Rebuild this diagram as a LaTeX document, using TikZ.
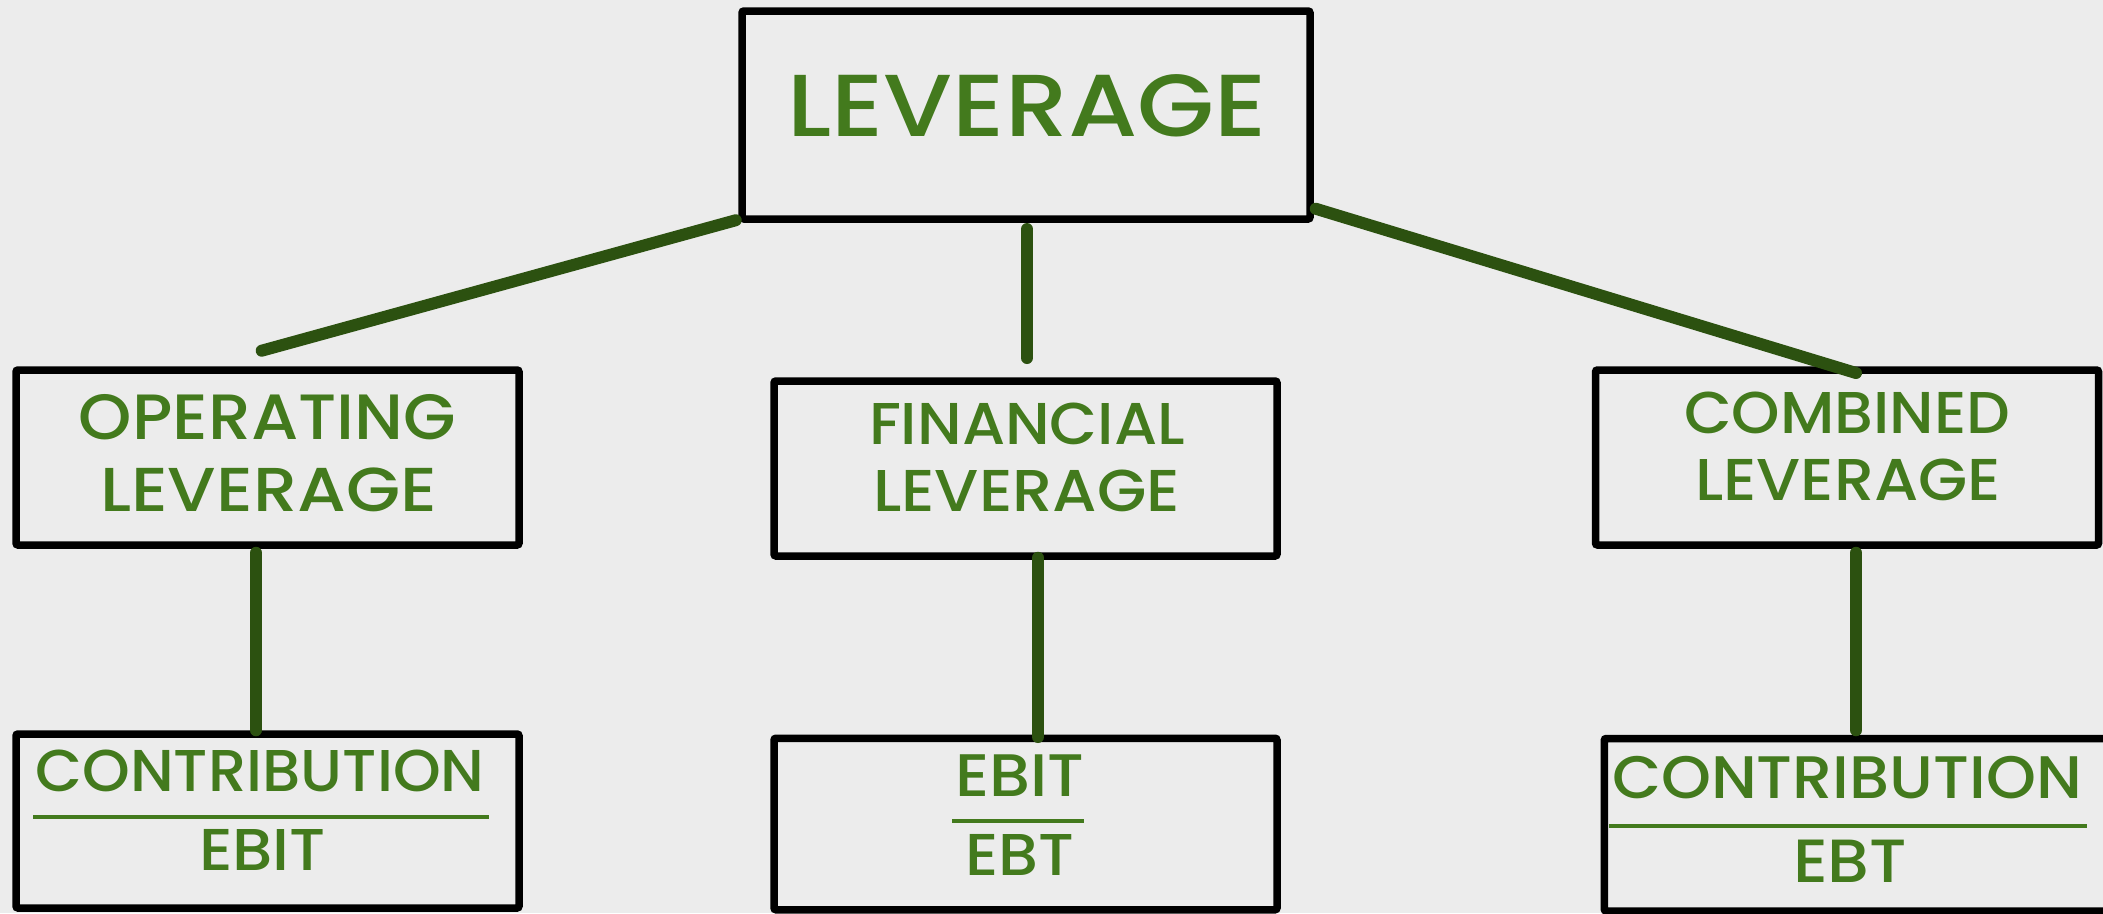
\documentclass[tikz,border=0pt]{standalone}
\usepackage{fontspec}
\setmainfont{Poppins}
\newfontfamily\pop{Poppins Medium}
\definecolor{bgc}{HTML}{ECECEC}
\definecolor{txtg}{HTML}{437A1D}
\definecolor{conng}{HTML}{2C5110}
\newcommand{\fsz}[1]{\fontsize{#1}{#1}\selectfont}
\newcommand{\fitw}[2]{\resizebox{#1pt}{\height}{#2}}
\begin{document}
\begin{tikzpicture}[x=1pt,y=-1pt,
  box/.style={draw=black, line width=7.5pt, rounded corners=2pt, inner sep=0pt},
  txt/.style={text=txtg, inner sep=0pt, anchor=base, font=\pop},
  conn/.style={draw=conng, line width=12pt, line cap=round},
  frac/.style={draw=txtg, line width=3.5pt}]
\fill[bgc] (0,0) rectangle (2103,913);
\useasboundingbox (0,0) rectangle (2103,913);
% boxes
\node[box, minimum width=568pt, minimum height=208pt] (top) at (1026,115) {};
\node[box, minimum width=503pt, minimum height=175pt] (op) at (267.5,457.5) {};
\node[box, minimum width=503pt, minimum height=175pt] (fin) at (1025.5,468.5) {};
\node[box, minimum width=503pt, minimum height=175pt] (com) at (1847,457.5) {};
\node[box, minimum width=503pt, minimum height=174pt] (opb) at (267.5,821) {};
\node[box, minimum width=503pt, minimum height=171.5pt] (finb) at (1025.5,824) {};
\node[box, minimum width=503.5pt, minimum height=172.5pt] (comb) at (1856,824.75) {};
% texts
\node[txt, font=\pop\fsz{88}] (tl) at (1027,136.5) {\fitw{479}{LEVERAGE}};
\node[txt, font=\pop\fsz{64}] (op1) at (267.5,439) {\fitw{377}{OPERATING}};
\node[txt, font=\pop\fsz{62}] (op2) at (268.5,511) {\fitw{337}{LEVERAGE}};
\node[txt, font=\pop\fsz{59}] (fin1) at (1027,444.5) {\fitw{316}{FINANCIAL}};
\node[txt, font=\pop\fsz{59}] (fin2) at (1026.5,511) {\fitw{307}{LEVERAGE}};
\node[txt, font=\pop\fsz{59}] (com1) at (1847,433.5) {\fitw{326}{COMBINED}};
\node[txt, font=\pop\fsz{59}] (com2) at (1848,500.5) {\fitw{306}{LEVERAGE}};
\node[txt, font=\pop\fsz{59}] (opn) at (260,791) {\fitw{449}{CONTRIBUTION}};
\node[txt, font=\pop\fsz{59}] (opd) at (262.5,870.5) {\fitw{127}{EBIT}};
\node[txt, font=\pop\fsz{60}] (finn) at (1019.5,796.5) {\fitw{129}{EBIT}};
\node[txt, font=\pop\fsz{59}] (find) at (1019.5,875.5) {\fitw{109}{EBT}};
\node[txt, font=\pop\fsz{60}] (comn) at (1847,798) {\fitw{470}{CONTRIBUTION}};
\node[txt, font=\pop\fsz{61}] (comd) at (1850,882.5) {\fitw{114}{EBT}};
% fraction rules
\draw[frac] (33,817) -- (488.5,817);
\draw[frac] (952,821) -- (1084,821);
\draw[frac] (1609,826) -- (2087,826);
% free ends
\coordinate (lfree) at (261.7,350.7);
\coordinate (mtop) at (1027,229);
\coordinate (mbot) at (1027,358);
\coordinate (rend) at (1856,373);
% connectors
\draw[conn] ([shift={(-2.5,-2.5)}]top.south west) -- (lfree);
\draw[conn] (mtop) -- (mbot);
\draw[conn] ([shift={(2,-14)}]top.south east) -- (rend);
\draw[conn] ([shift={(-11.5,4)}]op.south) -- ([shift={(-11.5,0)}]opb.north);
\draw[conn] ([shift={(12.5,-2)}]fin.south) -- ([shift={(12.5,2.5)}]finb.north);
\draw[conn] ([shift={(9,4)}]com.south) -- ([shift={(0,-4.5)}]comb.north);
\end{tikzpicture}
\end{document}
